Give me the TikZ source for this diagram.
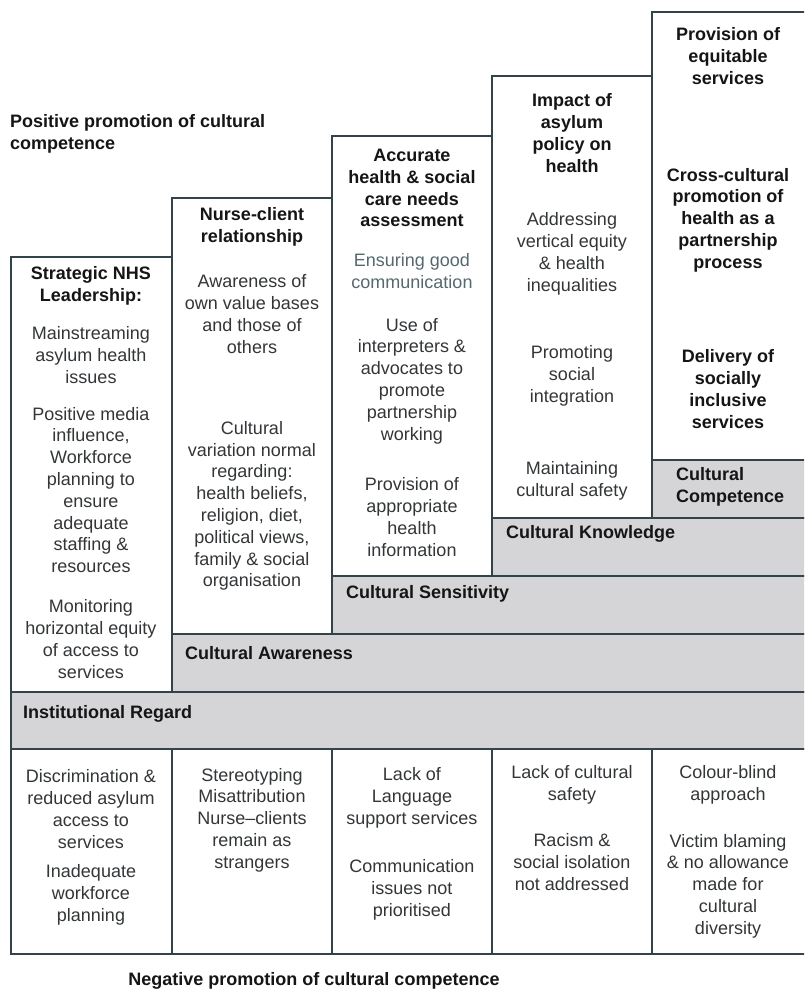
\documentclass[tikz,border=0pt]{standalone}
\usepackage{fontspec}
\setmainfont{Liberation Sans}
\definecolor{lc}{HTML}{33434A}
\definecolor{bandgray}{HTML}{D5D5D7}
\definecolor{bodytxt}{HTML}{333638}
\definecolor{softtxt}{HTML}{56696F}
\definecolor{headtxt}{HTML}{151515}
\begin{document}
\begin{tikzpicture}[x=1pt,y=-1pt,
  frame/.style={draw=lc,line width=2pt},
  band/.style={fill=bandgray,draw=lc,line width=2pt},
  body/.style={align=center,inner sep=0pt,text=bodytxt,font=\fontsize{18}{21.8}\selectfont},
  soft/.style={body,text=softtxt},
  head/.style={align=center,inner sep=0pt,text=headtxt,font=\fontsize{18}{21.8}\selectfont\bfseries},
  bandlabel/.style={anchor=west,align=left,inner sep=0pt,text=headtxt,font=\fontsize{18}{21.8}\selectfont\bfseries}]
\clip (0,0) rectangle (804,994);
\fill[white] (0,0) rectangle (804,994);
% bands
\draw[band] (652,460) rectangle (808,518);
\draw[band] (492,518) rectangle (808,576);
\draw[band] (332,576) rectangle (808,634);
\draw[band] (172,634) rectangle (808,692);
\draw[band] (11,692) rectangle (808,749);
% columns
\draw[frame] (11,692) -- (11,257) -- (172,257) -- (172,692);
\draw[frame] (172,634) -- (172,198) -- (332,198) -- (332,634);
\draw[frame] (332,576) -- (332,136) -- (492,136) -- (492,576);
\draw[frame] (492,518) -- (492,76) -- (652,76) -- (652,518);
\draw[frame] (652,460) -- (652,12) -- (808,12) -- (808,460);
% bottom row
\draw[frame] (11,749) rectangle (808,954);
\foreach \xx in {172,332,492,652} \draw[frame] (\xx,749) -- (\xx,954);

% top and bottom captions
\node[bandlabel] (pos) at (10,134) {Positive promotion of cultural\\competence};
\node[head] (neg) at (314,981) {Negative promotion of cultural competence};

% column 1
\node[head] (c1h) at (91,286) {Strategic NHS\\Leadership:};
\node[body] (c1a) at (91,355) {Mainstreaming\\asylum health\\issues};
\node[body] (c1b) at (91,490) {Positive media\\influence,\\Workforce\\planning to\\ensure\\adequate\\staffing \&\\resources};
\node[body] (c1c) at (91,639) {Monitoring\\horizontal equity\\of access to\\services};
% column 2
\node[head] (c2h) at (252,227) {Nurse-client\\relationship};
\node[body] (c2a) at (252,314) {Awareness of\\own value bases\\and those of\\others};
\node[body] (c2b) at (252,506) {Cultural\\variation normal\\regarding:\\health beliefs,\\religion, diet,\\political views,\\family \& social\\organisation};
% column 3
\node[head] (c3h) at (412,188) {Accurate\\health \& social\\care needs\\assessment};
\node[soft] (c3a) at (412,271) {Ensuring good\\communication};
\node[body] (c3b) at (412,381) {Use of\\interpreters \&\\advocates to\\promote\\partnership\\working};
\node[body] (c3c) at (412,517) {Provision of\\appropriate\\health\\information};
% column 4
\node[head] (c4h) at (572,133) {Impact of\\asylum\\policy on\\health};
\node[body] (c4a) at (572,254) {Addressing\\vertical equity\\\& health\\inequalities};
\node[body] (c4b) at (572,376) {Promoting\\social\\integration};
\node[body] (c4c) at (572,481) {Maintaining\\cultural safety};
% column 5
\node[head] (c5h) at (728,56) {Provision of\\equitable\\services};
\node[head] (c5a) at (728,220) {Cross-cultural\\promotion of\\health as a\\partnership\\process};
\node[head] (c5b) at (728,389) {Delivery of\\socially\\inclusive\\services};
% band labels
\node[bandlabel] (bcc) at (676,487) {Cultural\\Competence};
\node[bandlabel] (bck) at (506,534) {Cultural Knowledge};
\node[bandlabel] (bcs) at (346,594) {Cultural Sensitivity};
\node[bandlabel] (bca) at (185,653) {Cultural Awareness};
\node[bandlabel] (bir) at (23,714) {Institutional Regard};
% bottom row texts
\node[body] (n1a) at (91,809) {Discrimination \&\\reduced asylum\\access to\\services};
\node[body] (n1b) at (91,895) {Inadequate\\workforce\\planning};
\node[body] (n2a) at (252,820) {Stereotyping\\Misattribution\\Nurse--clients\\remain as\\strangers};
\node[body] (n3a) at (412,798) {Lack of\\Language\\support services};
\node[body] (n3b) at (412,890) {Communication\\issues not\\prioritised};
\node[body] (n4a) at (572,785) {Lack of cultural\\safety};
\node[body] (n4b) at (572,862) {Racism \&\\social isolation\\not addressed};
\node[body] (n5a) at (728,785) {Colour-blind\\approach};
\node[body] (n5b) at (728,886) {Victim blaming\\\& no allowance\\made for\\cultural\\diversity};
\end{tikzpicture}
\end{document}
